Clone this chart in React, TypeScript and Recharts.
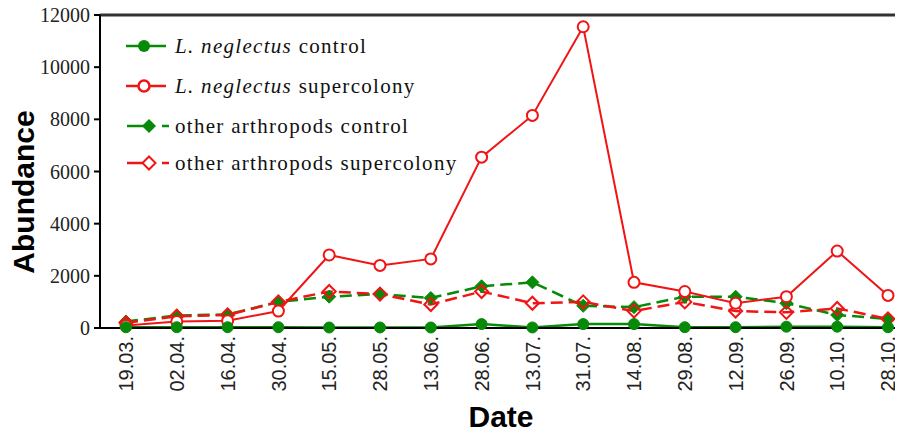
import React from 'react';
import { LineChart, Line, XAxis, YAxis, ReferenceLine } from 'recharts';

const categories = ['19.03.', '02.04.', '16.04.', '30.04.', '15.05.', '28.05.', '13.06.', '28.06.', '13.07.', '31.07.', '14.08.', '29.08.', '12.09.', '26.09.', '10.10.', '28.10.'];
const lnControl = [30, 30, 30, 30, 20, 20, 20, 150, 20, 150, 150, 30, 30, 50, 50, 30];
const lnSupercolony = [100, 250, 280, 650, 2800, 2400, 2650, 6550, 8150, 11550, 1750, 1400, 950, 1200, 2950, 1250];
const oaControl = [250, 480, 520, 1000, 1200, 1300, 1150, 1600, 1750, 850, 800, 1200, 1200, 950, 500, 350];
const oaSupercolony = [200, 450, 500, 1000, 1400, 1300, 900, 1400, 950, 1000, 650, 1000, 650, 600, 750, 350];
const yTicks = [0, 2000, 4000, 6000, 8000, 10000, 12000];

const legendLabels = [
  { italic: 'L. neglectus', rest: ' control' },
  { italic: 'L. neglectus', rest: ' supercolony' },
  { italic: '', rest: 'other arthropods control' },
  { italic: '', rest: 'other arthropods supercolony' },
];

const GREEN = '#078a07';
const RED = '#f01414';
const SERIF = "'Liberation Serif', 'Times New Roman', serif";
const SANS = "'Liberation Sans', Arial, sans-serif";

const data = categories.map((c, i) => ({
  date: c,
  lnControl: lnControl[i],
  lnSupercolony: lnSupercolony[i],
  oaControl: oaControl[i],
  oaSupercolony: oaSupercolony[i],
}));

const diamondPath = (cx: number, cy: number, h: number) =>
  `M${cx},${cy - h} L${cx + h},${cy} L${cx},${cy + h} L${cx - h},${cy} Z`;

const XTick = (props: any) => {
  const { x, y, payload } = props;
  return (
    <g transform={`translate(${x},${y})`}>
      <text transform="rotate(-90)" textAnchor="end" dy="0.36em" fontFamily={SANS} fontSize={20} fill="#222">
        {payload.value}
      </text>
    </g>
  );
};

const GreenDiamond = (props: any) => {
  const { cx, cy, index } = props;
  if (cx == null || cy == null) return <g key={index} />;
  return <path key={index} d={diamondPath(cx, cy, 6.5)} fill={GREEN} stroke={GREEN} strokeWidth={1} />;
};

const RedDiamond = (props: any) => {
  const { cx, cy, index } = props;
  if (cx == null || cy == null) return <g key={index} />;
  return <path key={index} d={diamondPath(cx, cy, 6.5)} fill="none" stroke={RED} strokeWidth={2} />;
};

export default function App() {
  const rows = [46, 86, 126, 163];
  return (
    <div style={{ position: 'relative', left: -8, top: -8, width: 903, height: 434 }}>
      <LineChart width={903} height={434} data={data} margin={{ top: 15, right: 0, left: 0, bottom: 0 }}>
        <XAxis
          dataKey="date"
          height={106}
          padding={{ left: 26, right: 15 }}
          axisLine={{ stroke: '#000', strokeWidth: 2 }}
          tickLine={false}
          tickSize={0}
          tickMargin={8}
          interval={0}
          tick={<XTick />}
        />
        <YAxis
          width={100}
          domain={[0, 12000]}
          ticks={yTicks}
          interval={0}
          axisLine={{ stroke: '#000', strokeWidth: 2 }}
          tickLine={{ stroke: '#000', strokeWidth: 2 }}
          tickSize={6}
          tickMargin={4}
          tick={{ fontFamily: SERIF, fontSize: 20, fill: '#222' }}
        />
        <ReferenceLine y={12000} stroke="#333" strokeWidth={3} />
        <Line
          dataKey="oaControl"
          stroke={GREEN}
          strokeWidth={2.5}
          strokeDasharray="12 6"
          dot={<GreenDiamond />}
          isAnimationActive={false}
        />
        <Line
          dataKey="oaSupercolony"
          stroke={RED}
          strokeWidth={2.5}
          strokeDasharray="12 6"
          dot={<RedDiamond />}
          isAnimationActive={false}
        />
        <Line
          dataKey="lnSupercolony"
          stroke={RED}
          strokeWidth={2}
          dot={{ r: 5.5, fill: '#fff', stroke: RED, strokeWidth: 2 }}
          isAnimationActive={false}
        />
        <Line
          dataKey="lnControl"
          stroke={GREEN}
          strokeWidth={2.5}
          dot={{ r: 5.5, fill: GREEN, stroke: GREEN, strokeWidth: 1 }}
          isAnimationActive={false}
        />
      </LineChart>
      <svg width={903} height={434} style={{ position: 'absolute', left: 0, top: 0, pointerEvents: 'none' }}>
        <text
          x={23}
          y={192}
          transform="rotate(-90, 23, 192)"
          textAnchor="middle"
          dominantBaseline="central"
          fontFamily={SANS}
          fontWeight="bold"
          fontSize={30}
          fill="#000"
        >
          Abundance
        </text>
        <text x={501} y={427} textAnchor="middle" fontFamily={SANS} fontWeight="bold" fontSize={30} fill="#000">
          Date
        </text>
        {rows.map((ry, i) => {
          const color = i % 2 === 0 ? GREEN : RED;
          const lab = legendLabels[i];
          return (
            <g key={i}>
              {i < 2 ? (
                <>
                  <line x1={126} x2={166} y1={ry} y2={ry} stroke={color} strokeWidth={2.5} />
                  {i === 0 ? (
                    <circle cx={144} cy={ry} r={6} fill={GREEN} />
                  ) : (
                    <circle cx={144} cy={ry} r={5.5} fill="#fff" stroke={RED} strokeWidth={2.5} />
                  )}
                </>
              ) : (
                <>
                  <line x1={127} x2={149} y1={ry} y2={ry} stroke={color} strokeWidth={2.5} />
                  <line x1={162} x2={169} y1={ry} y2={ry} stroke={color} strokeWidth={2.5} />
                  {i === 2 ? (
                    <path d={diamondPath(149, ry, 7)} fill={GREEN} />
                  ) : (
                    <path d={diamondPath(149, ry, 6.5)} fill="#fff" stroke={RED} strokeWidth={2} />
                  )}
                </>
              )}
              <text x={175} y={ry + 7} fontFamily={SERIF} fontSize={21} letterSpacing={1.3} fill="#111">
                {lab.italic ? <tspan fontStyle="italic">{lab.italic}</tspan> : null}
                <tspan>{lab.rest}</tspan>
              </text>
            </g>
          );
        })}
      </svg>
    </div>
  );
}
